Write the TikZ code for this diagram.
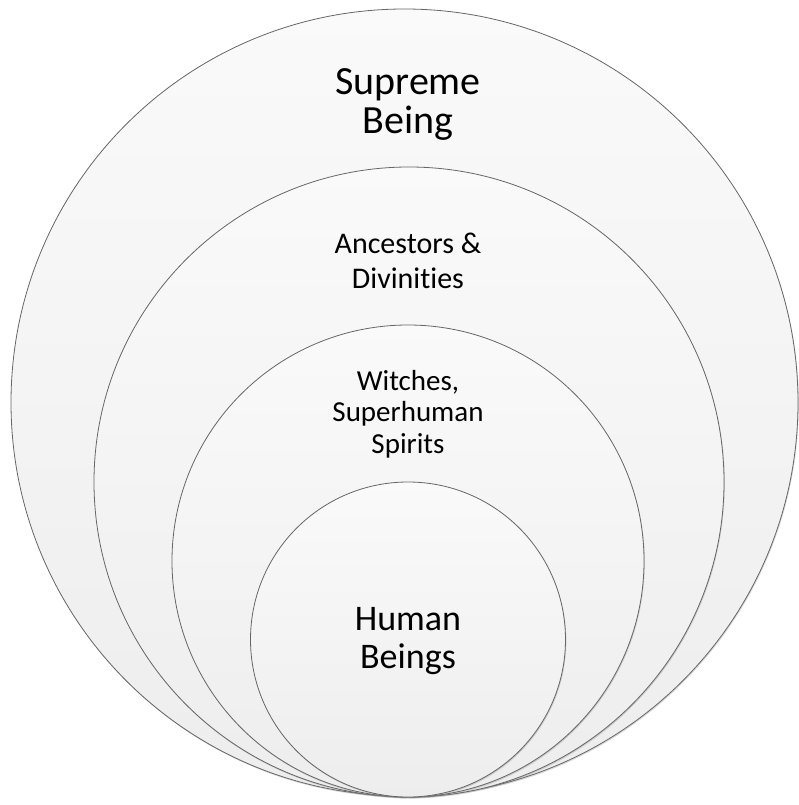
\documentclass[tikz,border=0pt]{standalone}
\usepackage{fontspec}
\setmainfont{Carlito}[Ligatures=NoCommon]
\usetikzlibrary{shadows}

\tikzset{
  ring/.style={circle, draw=black!60, line width=0.8pt, inner sep=0pt,
    top color=black!2, bottom color=black!7,
    drop shadow={opacity=0.3, shadow xshift=0.8pt, shadow yshift=-1.4pt}},
  bigtext/.style={anchor=base, align=center, font=\fontsize{40}{39}\selectfont},
  smalltext/.style={anchor=base, align=center, font=\fontsize{30}{35}\selectfont}
}

\begin{document}
\begin{tikzpicture}[x=1pt, y=-1pt]
  \useasboundingbox (0,0) rectangle (798,805);
  % nested circles, all touching at the bottom
  \node[ring, minimum size=787pt] (supreme) at (404.5,402.5) {};
  \node[ring, minimum size=630pt] (ancestors) at (409,482) {};
  \node[ring, minimum size=472pt] (witches) at (408,561) {};
  \node[ring, minimum size=315pt] (human) at (408,639.5) {};
  % labels (base = last line)
  \node[bigtext] (supremelbl) at (408,134) {Supreme\\Being};
  \node[smalltext] (ancestorslbl) at (408,288) {Ancestors \&\\Divinities};
  \node[smalltext, font=\fontsize{29}{31.5}\selectfont] (witcheslbl) at (408,453) {Witches,\\Superhuman\\Spirits};
  \node[bigtext, font=\fontsize{36}{38}\selectfont] (humanlbl) at (408,668) {Human\\Beings};
\end{tikzpicture}
\end{document}
